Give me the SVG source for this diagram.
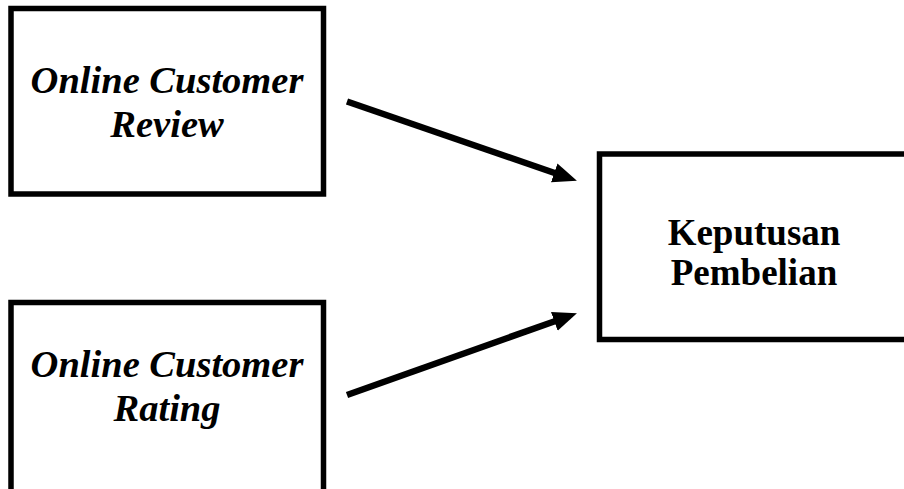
<svg xmlns="http://www.w3.org/2000/svg" width="904" height="489" viewBox="0 0 904 489">
<style>
.box{fill:#fff;stroke:#000;stroke-width:5.5}
.t{font-family:"Liberation Serif","Times New Roman",serif;font-weight:bold;font-size:38.5px;fill:#000;text-anchor:middle}
.k{font-size:37px}
.i{font-style:italic}
.c{stroke:#000;stroke-width:6.5;fill:none}
</style>
<defs>
<marker id="ah" markerUnits="userSpaceOnUse" markerWidth="26" markerHeight="22" refX="2" refY="10" orient="auto">
<path d="M0,0 L24,10 L0,20 z" fill="#000"/>
</marker>
</defs>
<rect width="904" height="489" fill="#fff"/>
<g id="connectors">
<line class="c" x1="347" y1="101.5" x2="556.1" y2="173.5" marker-end="url(#ah)"/>
<line class="c" x1="347" y1="395" x2="556.2" y2="320.7" marker-end="url(#ah)"/>
</g>
<g id="review">
<rect class="box" x="11" y="8.5" width="312.5" height="185.5"/>
<text class="t i" x="167" y="93">Online Customer</text>
<text class="t i" x="167" y="137">Review</text>
</g>
<g id="rating">
<rect class="box" x="11" y="302.5" width="312.5" height="192"/>
<text class="t i" x="167" y="377">Online Customer</text>
<text class="t i" x="167" y="421">Rating</text>
</g>
<g id="keputusan">
<rect class="box" x="599.5" y="154" width="312" height="185.5"/>
<text class="t k" x="754" y="245">Keputusan</text>
<text class="t k" x="754" y="285">Pembelian</text>
</g>
</svg>
